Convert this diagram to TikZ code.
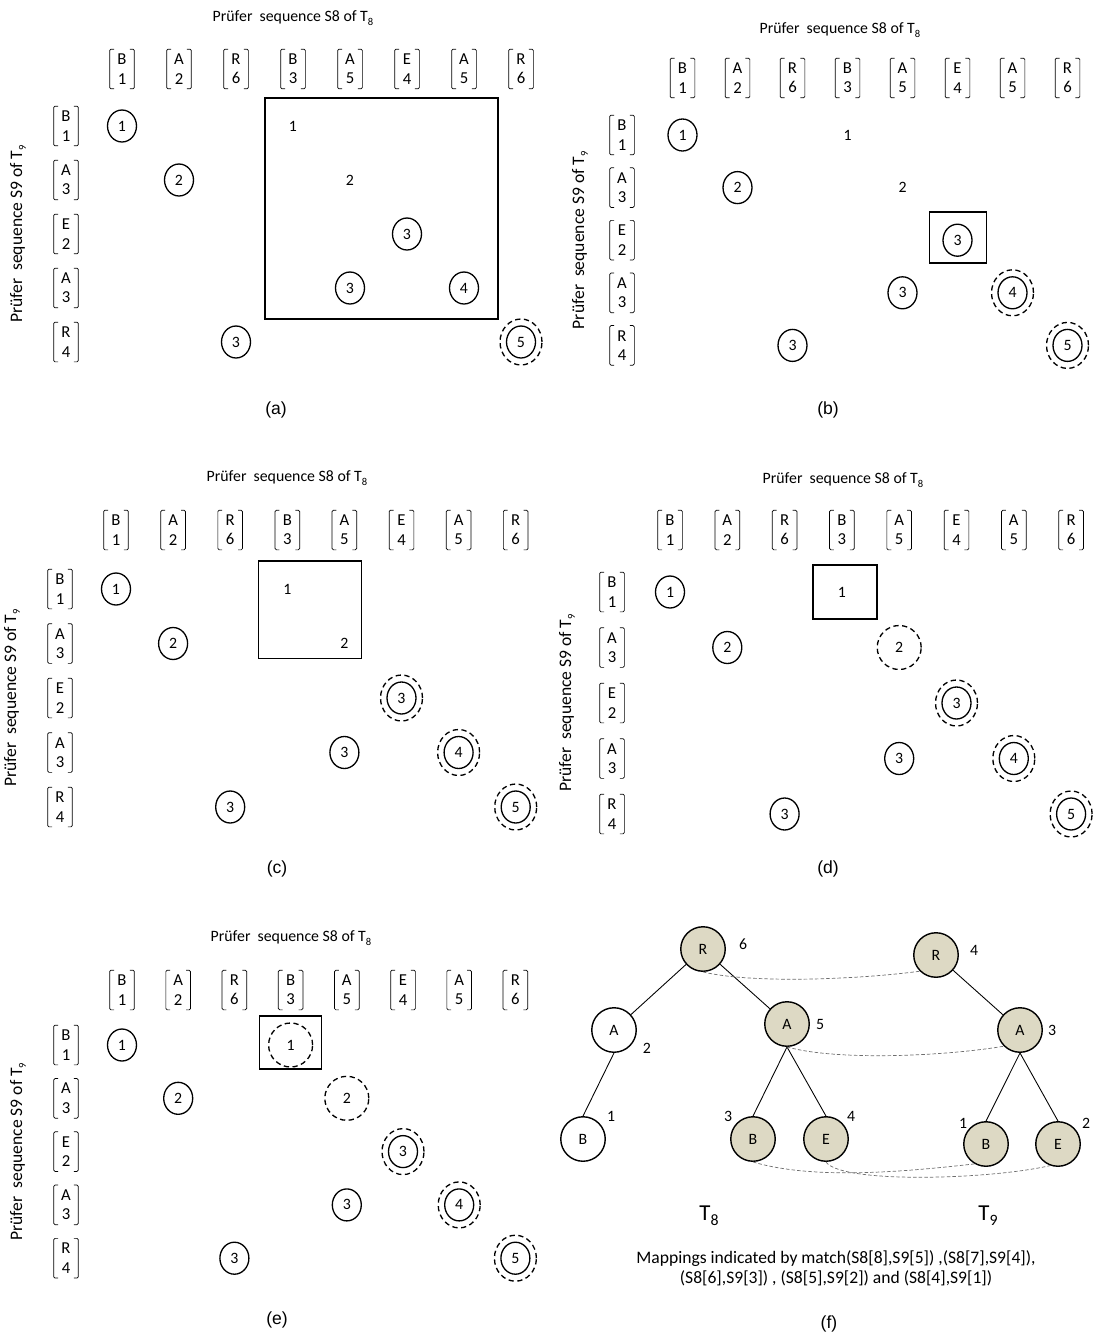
\documentclass[tikz,border=0pt]{standalone}
\usepackage{fontspec}
\setmainfont{Carlito}
\newfontfamily\capfont{Liberation Sans}
\usepackage{xcolor}
\definecolor{nodetan}{HTML}{DDD9C4}
\definecolor{mapgray}{HTML}{6E6E6E}
\usepackage{tikz}
\usetikzlibrary{shapes.geometric, calc}
\newcommand{\lowsub}[1]{\raisebox{-0.45ex}{\fontsize{6}{7}\selectfont #1}}

\begin{document}
\begin{tikzpicture}[x=0.02cm, y=-0.02cm,
    vec/.style={align=center, inner sep=0pt, minimum width=0.48cm, minimum height=0.78cm, font=\fontsize{9.5}{11}\selectfont},
    brk/.style={line width=0.4pt, rounded corners=0.8pt},
    seqlabel/.style={font=\fontsize{9}{11}\selectfont},
    sidelabel/.style={font=\fontsize{10}{12}\selectfont, rotate=90},
    cell/.style={draw, ellipse, line width=0.75pt, inner sep=0pt, minimum width=0.58cm, minimum height=0.64cm, font=\fontsize{9}{10}\selectfont},
    num/.style={inner sep=1pt, font=\fontsize{9}{10}\selectfont},
    dcell/.style={cell, dash pattern=on 3pt off 2pt, minimum width=0.88cm, minimum height=0.88cm},
    ring/.style={draw, ellipse, line width=0.75pt, dash pattern=on 3pt off 2pt, inner sep=0pt, minimum width=0.84cm, minimum height=0.92cm},
    panelbox/.style={draw, line width=0.9pt},
    panelcap/.style={font=\capfont\fontsize{10}{12}\selectfont},
    tnode/.style={draw, circle, line width=0.8pt, minimum size=0.89cm, inner sep=0pt, font=\fontsize{9}{11}\selectfont},
    hit/.style={tnode, fill=nodetan},
    tnum/.style={inner sep=0pt, font=\fontsize{9}{11}\selectfont},
    mapline/.style={mapgray, line width=0.4pt, dash pattern=on 2pt off 1.2pt},
  ]
  \useasboundingbox (0,0) rectangle (1097,1332);

  % grids of panels (a)-(e)
  \foreach \p/\cx/\dx/\cy/\rx/\ry/\dy/\tx/\ty/\lx in {
      a/122/57/69/66/126/54/293/18/18,
      b/682.5/55/78/622/135/52.6/840/30/580,
      c/116/57.1/530/60/589/54.5/287/478/12,
      d/670/57.3/530/612/592/55.5/843/480/567,
      e/122/56.2/990/66/1045/53.3/291/938/18} {
    \node[seqlabel] (\p-top) at (\tx,\ty) {Prüfer~ sequence S8 of T\lowsub{8}};
    \node[sidelabel] (\p-side) at (\lx,{\ry+2*\dy}) {Prüfer~ sequence S9 of T\lowsub{9}};
    \foreach \l/\n [count=\j] in {B/1,A/2,R/6,B/3,A/5,E/4,A/5,R/6} {
      \node[vec] (\p-c\j) at ({\cx+(\j-1)*\dx},\cy) {\l\\\n};
      \draw[brk] ([xshift=2.5pt]\p-c\j.north west) -- (\p-c\j.north west) -- (\p-c\j.south west) -- ([xshift=2.5pt]\p-c\j.south west);
      \draw[brk] ([xshift=-2.5pt]\p-c\j.north east) -- (\p-c\j.north east) -- (\p-c\j.south east) -- ([xshift=-2.5pt]\p-c\j.south east);
    }
    \foreach \l/\n [count=\i] in {B/1,A/3,E/2,A/3,R/4} {
      \node[vec] (\p-r\i) at (\rx,{\ry+(\i-1)*\dy}) {\l\\\n};
      \draw[brk] ([xshift=2.5pt]\p-r\i.north west) -- (\p-r\i.north west) -- (\p-r\i.south west) -- ([xshift=2.5pt]\p-r\i.south west);
      \draw[brk] ([xshift=-2.5pt]\p-r\i.north east) -- (\p-r\i.north east) -- (\p-r\i.south east) -- ([xshift=-2.5pt]\p-r\i.south east);
    }
    \foreach \i in {1,...,5}
      \foreach \j in {1,...,8}
        \coordinate (\p-\i-\j) at ({\cx+(\j-1)*\dx},{\ry+(\i-1)*\dy});
  }

  % (a)
  \node[cell] (a-m1) at (a-1-1) {1};
  \node[num] (a-t1) at (a-1-4) {1};
  \node[cell] (a-m2) at (a-2-2) {2};
  \node[num] (a-t2) at (a-2-5) {2};
  \node[cell] (a-m3) at (a-3-6) {3};
  \node[cell] (a-m4) at (a-4-5) {3};
  \node[cell] (a-m5) at (a-4-7) {4};
  \node[cell] (a-m6) at (a-5-3) {3};
  \node[ring] (a-o7) at (a-5-8) {};
  \node[cell] (a-m7) at (a-5-8) {5};
  \draw[panelbox] ($(a-1-4)+(-28,-28)$) rectangle ($(a-4-7)+(34,31)$);
  \node[panelcap] (a-cap) at (276,410) {(a)};

  % (b)
  \node[cell] (b-m1) at (b-1-1) {1};
  \node[num] (b-t1) at (b-1-4) {1};
  \node[cell] (b-m2) at (b-2-2) {2};
  \node[num] (b-t2) at (b-2-5) {2};
  \node[cell] (b-m3) at (b-3-6) {3};
  \draw[panelbox] ($(b-3-6)+(-28,-28)$) rectangle ($(b-3-6)+(29,23)$);
  \node[cell] (b-m4) at (b-4-5) {3};
  \node[ring] (b-o5) at (b-4-7) {};
  \node[cell] (b-m5) at (b-4-7) {4};
  \node[cell] (b-m6) at (b-5-3) {3};
  \node[ring] (b-o7) at (b-5-8) {};
  \node[cell] (b-m7) at (b-5-8) {5};
  \node[panelcap] (b-cap) at (828,410) {(b)};

  % (c)
  \node[cell] (c-m1) at (c-1-1) {1};
  \node[num] (c-t1) at (c-1-4) {1};
  \node[cell] (c-m2) at (c-2-2) {2};
  \node[num] (c-t2) at (c-2-5) {2};
  \draw[panelbox] ($(c-1-4)+(-29,-28)$) rectangle ($(c-2-5)+(17,15)$);
  \node[ring] (c-o3) at (c-3-6) {};
  \node[cell] (c-m3) at (c-3-6) {3};
  \node[cell] (c-m4) at (c-4-5) {3};
  \node[ring] (c-o5) at (c-4-7) {};
  \node[cell] (c-m5) at (c-4-7) {4};
  \node[cell] (c-m6) at (c-5-3) {3};
  \node[ring] (c-o7) at (c-5-8) {};
  \node[cell] (c-m7) at (c-5-8) {5};
  \node[panelcap] (c-cap) at (277,869) {(c)};

  % (d)
  \node[cell] (d-m1) at (d-1-1) {1};
  \node[num] (d-t1) at (d-1-4) {1};
  \draw[panelbox] ($(d-1-4)+(-29,-27)$) rectangle ($(d-1-4)+(35,27)$);
  \node[cell] (d-m2) at (d-2-2) {2};
  \node[dcell] (d-t2) at (d-2-5) {2};
  \node[ring] (d-o3) at (d-3-6) {};
  \node[cell] (d-m3) at (d-3-6) {3};
  \node[cell] (d-m4) at (d-4-5) {3};
  \node[ring] (d-o5) at (d-4-7) {};
  \node[cell] (d-m5) at (d-4-7) {4};
  \node[cell] (d-m6) at (d-5-3) {3};
  \node[ring] (d-o7) at (d-5-8) {};
  \node[cell] (d-m7) at (d-5-8) {5};
  \node[panelcap] (d-cap) at (828,869) {(d)};

  % (e)
  \node[cell] (e-m1) at (e-1-1) {1};
  \node[dcell] (e-t1) at (e-1-4) {1};
  \draw[panelbox] ($(e-1-4)+(-31,-29)$) rectangle ($(e-1-4)+(31,24)$);
  \node[cell] (e-m2) at (e-2-2) {2};
  \node[dcell] (e-t2) at (e-2-5) {2};
  \node[ring] (e-o3) at (e-3-6) {};
  \node[cell] (e-m3) at (e-3-6) {3};
  \node[cell] (e-m4) at (e-4-5) {3};
  \node[ring] (e-o5) at (e-4-7) {};
  \node[cell] (e-m5) at (e-4-7) {4};
  \node[cell] (e-m6) at (e-5-3) {3};
  \node[ring] (e-o7) at (e-5-8) {};
  \node[cell] (e-m7) at (e-5-8) {5};
  \node[panelcap] (e-cap) at (277,1320) {(e)};

  % (f) trees T8 and T9
  \node[hit] (r8) at (703,949) {R};
  \node[tnode] (a8l) at (614,1030) {A};
  \node[tnode] (b8l) at (583,1139) {B};
  \node[hit] (a8) at (787,1024) {A};
  \node[hit] (b8) at (753,1139) {B};
  \node[hit] (e8) at (826,1139) {E};
  \node[hit] (r9) at (936,955) {R};
  \node[hit] (a9) at (1020,1030) {A};
  \node[hit] (b9) at (986,1144) {B};
  \node[hit] (e9) at (1058,1144) {E};
  \draw[line width=0.5pt] (r8) -- (a8l) (a8l.south) -- (b8l.north) (r8) -- (a8) (a8.south) -- (b8.north) (a8.south) -- (e8.north);
  \draw[line width=0.5pt] (r9) -- (a9) (a9.south) -- (b9.north) (a9.south) -- (e9.north);
  \node[tnum] (r8-k) at ($(r8)+(40,-5)$) {6};
  \node[tnum] (a8l-k) at ($(a8l)+(33,18)$) {2};
  \node[tnum] (b8l-k) at ($(b8l)+(28,-23)$) {1};
  \node[tnum] (a8-k) at ($(a8)+(33,0)$) {5};
  \node[tnum] (b8-k) at ($(b8)+(-25,-23)$) {3};
  \node[tnum] (e8-k) at ($(e8)+(25,-23)$) {4};
  \node[tnum] (r9-k) at ($(r9)+(38,-5)$) {4};
  \node[tnum] (a9-k) at ($(a9)+(32,0)$) {3};
  \node[tnum] (b9-k) at ($(b9)+(-23,-21)$) {1};
  \node[tnum] (e9-k) at ($(e9)+(28,-21)$) {2};
  \draw[mapline] (r8.south) .. controls +(50,12) and +(-60,8) .. (r9.225);
  \draw[mapline] (a8.south) .. controls +(50,14) and +(-60,10) .. (a9.225);
  \draw[mapline] (b8.south) .. controls +(60,18) and +(-70,8) .. (b9.240);
  \draw[mapline] (e8.south) .. controls +(15,22) and +(-60,14) .. (e9.250);
  \node[font=\fontsize{13}{15}\selectfont] (t8) at (709,1216) {T\raisebox{-0.45ex}{\fontsize{9}{10}\selectfont 8}};
  \node[font=\fontsize{13}{15}\selectfont] (t9) at (988,1216) {T\raisebox{-0.45ex}{\fontsize{9}{10}\selectfont 9}};
  \node[align=center, font=\fontsize{10}{11.6}\selectfont] (maps) at (836,1268) {Mappings indicated by match(S8[8],S9[5]) ,(S8[7],S9[4]),\\(S8[6],S9[3]) , (S8[5],S9[2]) and (S8[4],S9[1])};
  \node[panelcap] (f-cap) at (829,1324) {(f)};
\end{tikzpicture}
\end{document}
